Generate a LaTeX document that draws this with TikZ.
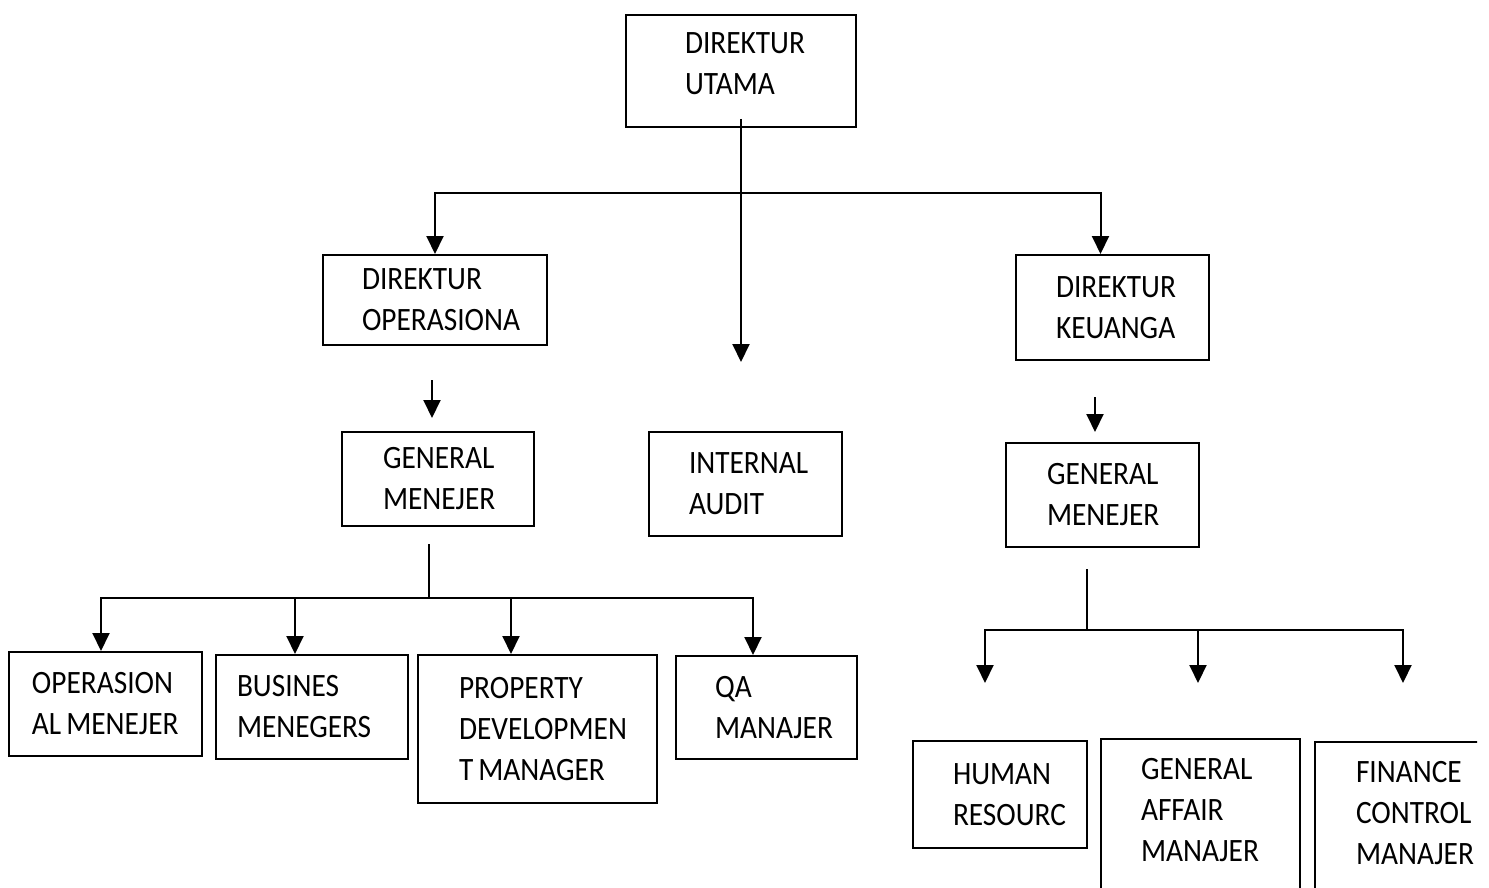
\documentclass[tikz,border=0pt]{standalone}
\usepackage{fontspec}
\setmainfont{Carlito}[FakeStretch=0.9]
\usepackage{tikz}
\usetikzlibrary{calc,arrows.meta,positioning}
\uchyph=0
\hyphenpenalty=10000

\begin{document}
\begin{tikzpicture}[x=0.5pt,y=-0.5pt,
        font=\fontsize{16.3pt}{20.5pt}\selectfont,
        kotak/.style={draw,line width=1pt,align=left,inner xsep=20pt},
        panah/.style={line width=1pt,-{Triangle[width=8.5pt,length=9pt]}},
        garis/.style={line width=1pt}]

        \useasboundingbox (0,0) rectangle (1489,888);
        \clip (0,0) rectangle (1477,888);

        %direksi
        \node[draw,line width=1pt,inner xsep=29.5pt,inner ysep=9pt,anchor=north west] (utama) at (625,14)
            {\parbox[t][38pt][t]{56pt}{\raggedright DIREKTUR\\UTAMA}};
        \node[kotak,text width=73pt,inner xsep=19.5pt,minimum height=45pt] (dirops) at (435,300) {DIREKTUR\\OPERASIONA};
        \node[kotak,text width=56.5pt,minimum height=52.5pt] (dirkeu) at (1112.5,307.5) {DIREKTUR\\KEUANGA};
        \node[kotak,text width=56.5pt,minimum height=52pt] (audit) at (745.5,484) {INTERNAL\\AUDIT};

        %general menejer
        \node[kotak,text width=55pt,inner xsep=20.5pt,minimum height=47pt] (gmops) at (438,479) {GENERAL\\MENEJER};
        \node[kotak,text width=55.5pt,inner xsep=20.5pt,minimum height=52pt] (gmkeu) at (1102.5,495) {GENERAL\\MENEJER};

        %bawah kiri
        \node[kotak,text width=73.5pt,inner xsep=11.5pt,minimum height=52pt] (opmgr) at (105.5,704) {OPERASION\\AL\hspace{2.5pt}MENEJER};
        \node[kotak,text width=75pt,inner xsep=10.5pt,minimum height=52pt] (bisnis) at (312,707) {BUSINES\\MENEGERS};
        \node[kotak,text width=78.5pt,inner xsep=20.5pt,minimum height=74pt] (properti) at (537.5,729) {PROPERTY\\DEVELOPMEN\\T\hspace{2.5pt}MANAGER};
        \node[kotak,text width=51.5pt,inner xsep=19.5pt,minimum height=51.5pt] (qa) at (766.5,707.5) {QA\\MANAJER};

        %bawah kanan
        \node[kotak,text width=47pt,minimum height=53.5pt] (hrd) at (1000,794.5) {HUMAN\\RESOURC};
        \node[draw,line width=1pt,inner xsep=20pt,inner ysep=9.5pt,anchor=north west] (ga) at (1100,738)
            {\parbox[t][120pt][t]{59.5pt}{\raggedright GENERAL\\AFFAIR\\MANAJER}};
        \node[draw,line width=1pt,inner xsep=20.5pt,inner ysep=9.5pt,anchor=north west] (finance) at (1314,741)
            {\parbox[t][120pt][t]{62pt}{\raggedright FINANCE\\CONTROL\\MANAJER}};

        %titik bantu
        \coordinate (cabang1) at (741,193);
        \coordinate (ujungaudit) at (741,362);
        \coordinate (p1) at (432,380);
        \coordinate (p2) at (432,418);
        \coordinate (q1) at (1095,397);
        \coordinate (q2) at (1095,432);
        \coordinate (b1) at (429,544);
        \coordinate (b2) at (429,598);
        \coordinate (c1) at (1087,569);
        \coordinate (c2) at (1087,630);
        \coordinate (r1) at (985,683);
        \coordinate (r2) at (1198,683);
        \coordinate (r3) at (1403,683);

        %garis dan panah
        \draw[panah] ([yshift=4.5pt]utama.south) -- (ujungaudit);
        \draw[panah] (cabang1) -| (dirops.north);
        \draw[panah] (cabang1) -| ([xshift=-6pt]dirkeu.north);
        \draw[panah] (p1) -- (p2);
        \draw[panah] (q1) -- (q2);

        \draw[garis] (b1) -- (b2);
        \foreach \n/\s in {opmgr/-2.25pt, bisnis/-8.5pt, properti/-13.25pt, qa/-6.75pt}
            \draw[panah] (b2) -| ([xshift=\s]\n.north);

        \draw[garis] (c1) -- (c2);
        \foreach \r in {r1,r2,r3}
            \draw[panah] (c2) -| (\r);
\end{tikzpicture}
\end{document}
